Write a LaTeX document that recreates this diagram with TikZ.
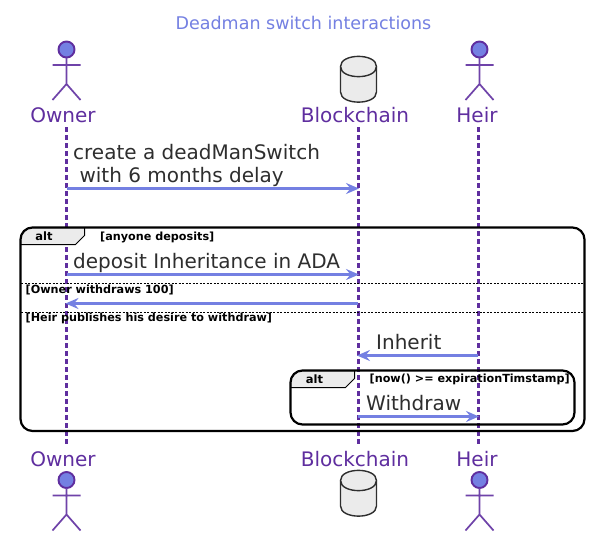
\documentclass[tikz,border=0pt]{standalone}
\usepackage{fontspec}
\setmainfont{DejaVu Sans}
\usetikzlibrary{arrows.meta}
\definecolor{purp}{HTML}{5F2E9F}
\definecolor{blu}{HTML}{7480E2}
\definecolor{txt}{HTML}{2E2E2E}
\definecolor{gry}{HTML}{EBEBEB}
\newcommand{\actorfig}[2]{%
  \draw[purp,line width=1.9pt,fill=blu] (#1,#2) circle (8);
  \draw[purp!90!white,line width=1.7pt] (#1-14,#2+15.5) -- (#1+14,#2+15.5)
    (#1,#2+8) -- (#1,#2+34.5) (#1-14,#2+50.5) -- (#1,#2+34.5) -- (#1+14,#2+50.5);}
\newcommand{\dbfig}[2]{%
  \draw[txt,line width=1.4pt,fill=gry] (#1-18,#2+10.5) .. controls (#1-18,#2-3) and (#1+18,#2-3) .. (#1+18,#2+10.5)
    -- (#1+18,#2+36) .. controls (#1+18,#2+49.5) and (#1-18,#2+49.5) .. (#1-18,#2+36) -- cycle;
  \draw[txt,line width=1.4pt] (#1-18,#2+10.5) .. controls (#1-18,#2+24) and (#1+18,#2+24) .. (#1+18,#2+10.5);}
\newcommand{\altframe}[7]{% x1 y1 x2 y2 tabright tabslope-x tabbottom
  \draw[tabfill] (#1,#7) [rounded corners=12] -- (#1,#2) [sharp corners] -- (#5,#2) -- (#5,#7-9) -- (#6,#7) -- cycle;
  \draw[frameline,rounded corners=12] (#1,#2) rectangle (#3,#4);}
\tikzset{x=1pt,y=-1pt,
  partlabel/.style={purp,font=\fontsize{20}{20}\selectfont,inner sep=0,anchor=base},
  msg/.style={txt,font=\fontsize{20}{23}\selectfont,inner sep=0,anchor=base west,align=left},
  cond/.style={black,font=\bfseries\fontsize{11.2}{11}\selectfont,inner sep=0,anchor=base west},
  alttag/.style={black,font=\bfseries\fontsize{11.5}{11}\selectfont,inner sep=0,anchor=base},
  lifeline/.style={purp,line width=3pt,dash pattern=on 4.5pt off 3.5pt},
  arrowline/.style={blu,line width=2.7pt,-{Stealth[length=13pt,width=11pt,inset=4.5pt]},shorten >=-1pt},
  frameline/.style={black,line width=2.2pt},
  sep/.style={black,line width=0.9pt,dash pattern=on 2pt off 1.5pt},
  tabfill/.style={draw=black,line width=1pt,fill=gry}}
\begin{document}
\begin{tikzpicture}
\useasboundingbox (0,0) rectangle (590,536);
\fill[white] (0,0) rectangle (590,536);
\node[blu,font=\fontsize{17.5}{17}\selectfont,inner sep=0,anchor=base] (title) at (303.5,29) {Deadman switch interactions};
\coordinate (ot) at (66.5,127); \coordinate (ob) at (66.5,446);
\coordinate (bt) at (358,127);  \coordinate (bb) at (358,446);
\coordinate (ht) at (478,127);  \coordinate (hb) at (478,446);
\draw[lifeline] (ot) -- (ob);
\draw[lifeline] (bt) -- (bb);
\draw[lifeline] (ht) -- (hb);
\actorfig{66.5}{49.5}
\dbfig{358.5}{56}
\actorfig{479.5}{49.5}
\node[partlabel] (ownerT) at (63,122) {Owner};
\node[partlabel] (chainT) at (355,122) {Blockchain};
\node[partlabel] (heirT) at (477,122) {Heir};
\node[partlabel] (ownerB) at (63,466) {Owner};
\node[partlabel] (chainB) at (355,466) {Blockchain};
\node[partlabel] (heirB) at (477,466) {Heir};
\actorfig{66.5}{480}
\dbfig{358.5}{470}
\actorfig{479.5}{480}
% msg 1
\node[msg] (m1) at (73,159) {create a deadManSwitch};
\node[msg] (m1b) at (73,182) {\ with 6 months delay};
\coordinate (a1) at (66.5,188.5); \coordinate (a1e) at (358,188.5);
\draw[arrowline] (a1) -- (a1e);
% outer alt
\altframe{20.5}{227.5}{584.5}{431}{84.5}{75.5}{244.5}
\node[alttag] (alt1) at (44,240.5) {alt};
\node[cond] (c1) at (100,240) {[anyone deposits]};
\node[msg] (m2) at (73,268) {deposit Inheritance in ADA};
\coordinate (a2) at (66.5,274.5); \coordinate (a2e) at (358,274.5);
\draw[arrowline] (a2) -- (a2e);
\coordinate (s1a) at (21,283.5); \coordinate (s1b) at (584,283.5);
\draw[sep] (s1a) -- (s1b);
\node[cond] (c2) at (25.5,293) {[Owner withdraws 100]};
\coordinate (a3) at (358,303.5); \coordinate (a3e) at (66.5,303.5);
\draw[arrowline] (a3) -- (a3e);
\coordinate (s2a) at (21,312.5); \coordinate (s2b) at (584,312.5);
\draw[sep] (s2a) -- (s2b);
\node[cond] (c3) at (25.5,321.5) {[Heir publishes his desire to withdraw]};
\node[msg] (m4) at (376,349) {Inherit};
\coordinate (a4) at (478,355.5); \coordinate (a4e) at (358,355.5);
\draw[arrowline] (a4) -- (a4e);
% inner alt
\altframe{290.5}{370.5}{574.5}{424.5}{354.5}{345.5}{387.5}
\node[alttag] (alt2) at (314.5,383) {alt};
\node[cond] (c4) at (369.5,382.5) {[now() >= expirationTimstamp]};
\node[msg] (m5) at (366,410) {Withdraw};
\coordinate (a5) at (358,416.5); \coordinate (a5e) at (478,416.5);
\draw[arrowline] (a5) -- (a5e);
\end{tikzpicture}
\end{document}
